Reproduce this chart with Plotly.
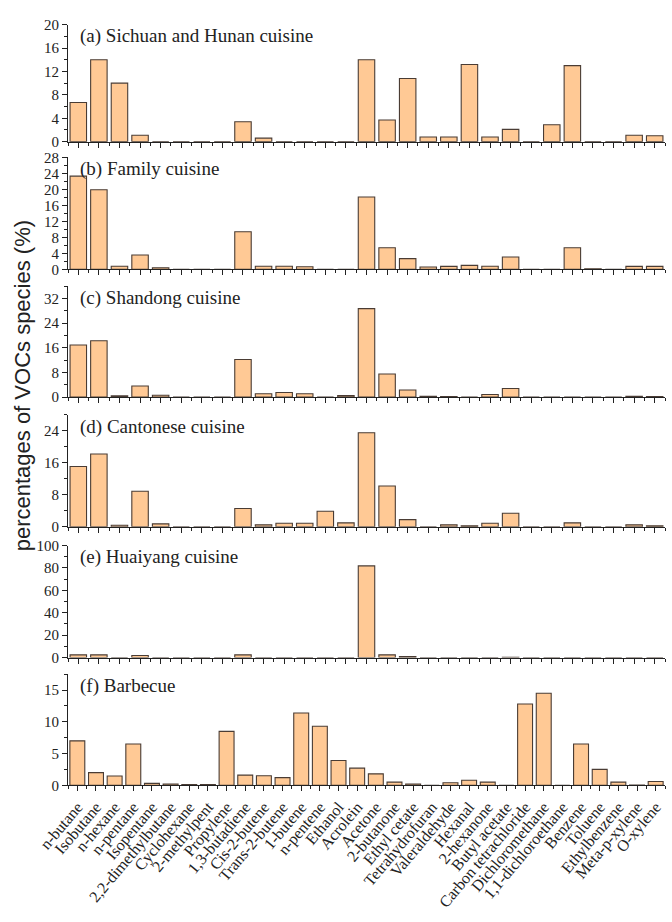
import plotly.graph_objects as go

# ---------------- data ----------------
species_bottom = ["n-butane", "Isobutane", "n-hexane", "n-pentane", "Isopentane",
                  "2,2-dimethylbutane", "Cyclohexane", "2-methylpent", "Propylene",
                  "1,3-butadiene", "Cis-2-butene", "Trans-2-butene", "1-butene",
                  "n-pentene", "Ethanol", "Acrolein", "Acetone", "2-butanone",
                  "Ethyl cetate", "Tetrahydrofuran", "Valeraldehyde", "Hexanal",
                  "2-hexanone", "Butyl acetate", "Carbon tetrachloride",
                  "Dichloromethane", "1,1-dichloroethane", "Benzene", "Toluene",
                  "Ethylbenzene", "Meta-p-xylene", "O-xylene"]

species_top = ["n-butane", "Isobutane", "n-hexane", "n-pentane", "Isopentane",
               "2,2-dimethylbutane", "Cyclohexane", "2-methylpent", "Propylene",
               "1,3-butadiene", "Cis-2-butene", "Trans-2-butene", "1-butene",
               "n-pentene", "Acrolein", "Acetone", "2-butanone", "Ethyl cetate",
               "Tetrahydrofuran", "Valeraldehyde", "Hexanal", "2-hexanone",
               "Butyl acetate", "Carbon tetrachloride", "Dichloromethane",
               "Benzene", "Toluene", "Meta-p-xylene", "O-xylene"]

sichuan_hunan = [6.7, 14.0, 10.0, 1.1, 0, 0, 0, 0, 3.4, 0.6, 0, 0, 0, 0, 14.0, 3.7,
                 10.8, 0.8, 0.8, 13.2, 0.8, 2.1, 0, 2.9, 13.0, 0, 0, 1.1, 1.0]
family = [23.3, 19.9, 0.8, 3.6, 0.4, 0, 0, 0, 9.4, 0.8, 0.8, 0.65, 0, 0, 18.1, 5.4,
          2.7, 0.6, 0.75, 1.0, 0.8, 3.1, 0, 0, 5.4, 0.15, 0, 0.75, 0.75]
shandong = [16.9, 18.3, 0.4, 3.6, 0.6, 0, 0, 0, 12.2, 1.1, 1.5, 1.1, 0, 0.5, 28.7, 7.5,
            2.3, 0.3, 0.2, 0, 0.85, 2.8, 0, 0, 0, 0, 0, 0.3, 0.2]
cantonese = [15.1, 18.2, 0.4, 8.9, 0.75, 0, 0, 0, 4.6, 0.5, 0.9, 0.9, 3.9, 1.0, 23.5,
             10.2, 1.8, 0, 0.5, 0.25, 0.9, 3.4, 0, 0, 1.0, 0, 0, 0.5, 0.25]
huaiyang = [2.4, 2.4, 0, 1.8, 0, 0, 0, 0, 2.4, 0, 0, 0, 0, 0, 81.8, 2.4, 0.9, 0, 0, 0,
            0, 0.3, 0, 0, 0, 0, 0, 0, 0]
barbecue = [7.0, 2.0, 1.45, 6.5, 0.3, 0.2, 0.1, 0.1, 8.5, 1.6, 1.5, 1.2, 11.4, 9.3,
            3.9, 2.7, 1.8, 0.5, 0.2, 0, 0.4, 0.8, 0.5, 0, 12.8, 14.5, 0, 6.5, 2.5,
            0.5, 0.05, 0.6]

panel_titles = ["(a) Sichuan and Hunan cuisine", "(b) Family cuisine",
                "(c) Shandong cuisine", "(d) Cantonese cuisine",
                "(e) Huaiyang cuisine", "(f) Barbecue"]
panel_values = [sichuan_hunan, family, shandong, cantonese, huaiyang, barbecue]
panel_species = [species_top] * 5 + [species_bottom]
y_max = [20, 28, 36, 28, 100, 17.5]
y_dtick = [4, 4, 8, 8, 20, 5]
y_minor = [2, 2, 4, 4, 10, 2.5]

# ---------------- layout geometry (pixels) ----------------
W, H = 672, 922
ML, MR = 68, 7
panel_px = [(17, 136), (152, 266), (283, 396), (414, 528), (547, 661), (678, 791)]

FILL = "#FFC995"
EDGE = "#4a3c34"
SERIF = "Liberation Serif"

fig = go.Figure()
layout = dict(
    width=W, height=H,
    margin=dict(l=ML, r=MR, t=0, b=0),
    paper_bgcolor="white", plot_bgcolor="white",
    showlegend=False,
    font=dict(family=SERIF, size=14, color="#222"),
    annotations=[],
)

for i in range(6):
    n = len(panel_species[i])
    xa = "x" if i == 0 else f"x{i+1}"
    ya = "y" if i == 0 else f"y{i+1}"
    fig.add_trace(go.Bar(
        x=list(range(n)), y=panel_values[i], xaxis=xa, yaxis=ya, width=0.8,
        marker=dict(color=FILL, line=dict(color=EDGE, width=1.1)),
        hovertext=panel_species[i], name=panel_titles[i],
    ))
    top, zero = panel_px[i]
    dom = [1 - zero / H, 1 - top / H]
    layout[f"xaxis{i+1}"] = dict(
        domain=[0, 1], anchor=ya, range=[-0.5, n - 0.5],
        showline=True, linecolor="#222", linewidth=1.2,
        ticks="outside", ticklen=5, tickwidth=1, tickcolor="#222",
        tickmode="array", tickvals=list(range(n)), ticktext=panel_species[i],
        showticklabels=(i == 5), tickangle=-50,
        tickfont=dict(family=SERIF, size=16, color="#222"),
        minor=dict(ticks="outside", ticklen=3, tickcolor="#222",
                   tickmode="linear", tick0=-0.5, dtick=1),
        showgrid=False, zeroline=False, fixedrange=True,
    )
    layout[f"yaxis{i+1}"] = dict(
        domain=dom, anchor=xa, range=[0, y_max[i]],
        showline=True, linecolor="#222", linewidth=1.2,
        ticks="outside", ticklen=5, tickcolor="#222",
        tickmode="linear", tick0=0, dtick=y_dtick[i],
        tickfont=dict(family=SERIF, size=15, color="#222"),
        minor=dict(ticks="outside", ticklen=3, tickcolor="#222", dtick=y_minor[i]),
        showgrid=False, zeroline=False, fixedrange=True,
    )
    layout["annotations"].append(dict(
        text=panel_titles[i], xref="paper", yref="paper",
        x=(78 - ML) / (W - ML - MR), y=1 - (top + 12) / H,
        xanchor="left", yanchor="middle", showarrow=False,
        font=dict(family=SERIF, size=19, color="#222"),
    ))

layout["annotations"].append(dict(
    text="percentages of VOCs species (%)", xref="paper", yref="paper",
    x=-(ML - 22) / (W - ML - MR), y=1 - 385 / H, xanchor="center", yanchor="middle",
    textangle=-90, showarrow=False,
    font=dict(family="Liberation Sans", size=22, color="#222"),
))

fig.update_layout(**layout)
fig.write_html(
    "out.html",
    config={"displayModeBar": False},
    post_script="document.body.style.margin='0';document.body.style.overflow='hidden';",
)
